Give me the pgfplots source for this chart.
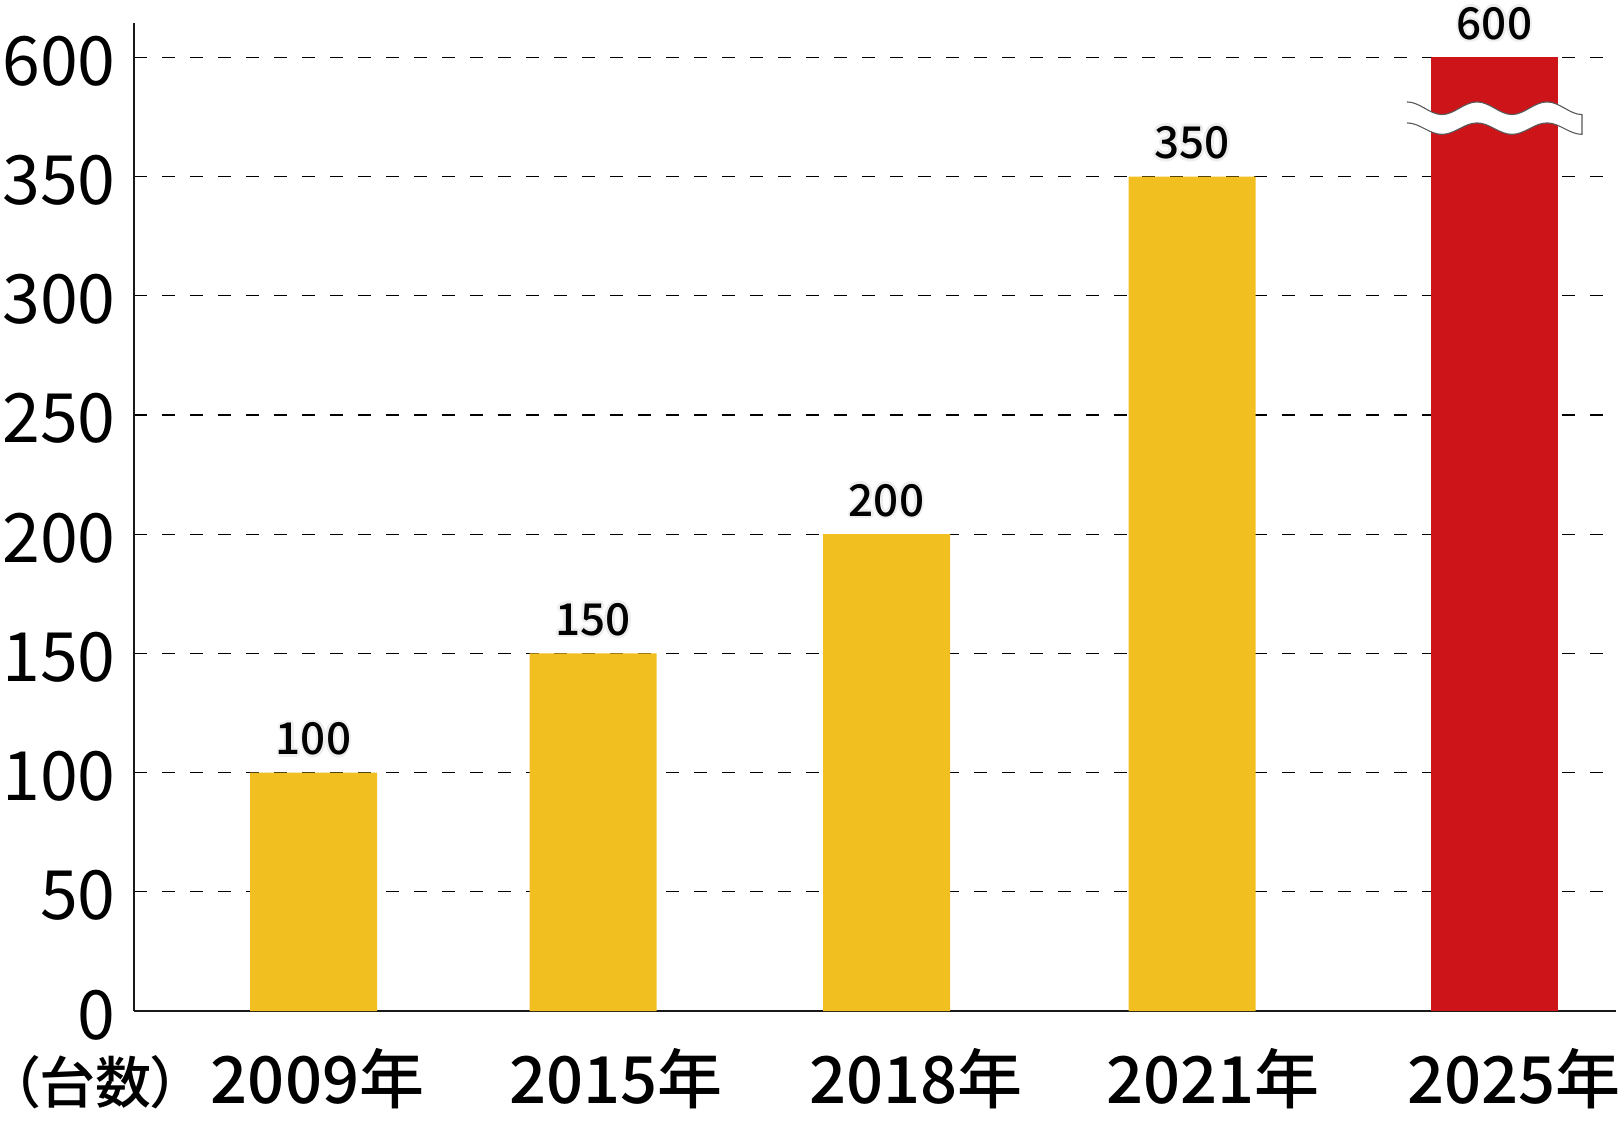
\documentclass[border=0pt]{standalone}
\usepackage{fontspec}
\setmainfont{Noto Sans CJK JP}
\newfontfamily\medium{Noto Sans CJK JP Medium}
\newfontfamily\mediumpalt{Noto Sans CJK JP Medium}[RawFeature=+palt]
\usepackage{pgfplots}
\pgfplotsset{compat=1.18}
\definecolor{baryellow}{RGB}{241,191,31}
\definecolor{barred}{RGB}{205,20,24}
\definecolor{halo}{RGB}{238,238,238}

% value label with a light halo
\newcommand\hc[3]{\rlap{\kern#1\raisebox{#2}{\color{halo}#3}}}
\newcommand\halo[1]{\hc{1.3pt}{0pt}{#1}\hc{-1.3pt}{0pt}{#1}\hc{0pt}{1.3pt}{#1}\hc{0pt}{-1.3pt}{#1}%
  \hc{0.9pt}{0.9pt}{#1}\hc{-0.9pt}{0.9pt}{#1}\hc{0.9pt}{-0.9pt}{#1}\hc{-0.9pt}{-0.9pt}{#1}#1}

\begin{document}
\begin{tikzpicture}
\path[use as bounding box] (0,0) rectangle (811.5pt,-560.5pt);
\begin{axis}[
    at={(67pt,-505.5pt)},
    anchor=south west,
    scale only axis,
    width=736.5pt,
    height=494pt,
    xmin=134, xmax=1607,
    ymin=0, ymax=414.4,
    axis x line*=bottom,
    axis y line*=left,
    axis line style={-, line width=1.4pt, black!90},
    major tick length=0pt,
    ytick={0,50,100,150,200,250,300,350,400},
    yticklabels={0,50,100,150,200,250,300,350,600},
    xtick={317.5,616,916,1213,1514},
    xticklabels={2009年,2015年,2018年,2021年,2025年},
    /pgf/number format/assume math mode=true,
    yticklabel style={font=\fontsize{34pt}{34pt}\selectfont, anchor=base east, inner sep=0pt, xshift=-9pt, yshift=-14pt},
    xticklabel style={font=\medium\fontsize{32.5pt}{32.5pt}\selectfont, anchor=base, inner sep=0pt, yshift=-46pt},
    ymajorgrids,
    major grid style={black, line width=0.65pt, dash pattern=on 6.5pt off 7.5pt},
    clip=false,
]
\addplot[ybar, bar width=127, bar shift=0pt, fill=baryellow, draw=none] coordinates {
    (313.5,100) (593,150) (886.5,200) (1192,350)
};
\addplot[ybar, bar width=127, bar shift=0pt, fill=barred, draw=none] coordinates {
    (1494.5,400)
};
% axis line continues a little past the grid
\draw[line width=1.4pt, black!90] (axis cs:1600,0) -- (axis cs:1616,0);

% value labels
\begin{scope}[every node/.style={font=\medium\fontsize{22pt}{22pt}\selectfont, anchor=base, inner sep=0pt, yshift=9pt}]
\node at (axis cs:313.5,100) {\halo{100}};
\node at (axis cs:593,150) {\halo{150}};
\node at (axis cs:886.5,200) {\halo{200}};
\node at (axis cs:1192,350) {\halo{350}};
\node at (axis cs:1494.5,400) {\halo{600}};
\end{scope}

% break mark on the 2025 bar
\filldraw[fill=white, draw=black!65, line width=0.55pt]
    (axis cs:1407,381.3) cos (axis cs:1424.5,378.7) sin (axis cs:1442,376.0)
    cos (axis cs:1459.5,378.7) sin (axis cs:1477,381.3)
    cos (axis cs:1494.5,378.7) sin (axis cs:1512,376.0)
    cos (axis cs:1529.5,378.7) sin (axis cs:1547,381.3)
    cos (axis cs:1564.5,378.7) sin (axis cs:1582,376.0)
    -- (axis cs:1582,367.7)
    cos (axis cs:1564.5,370.1) sin (axis cs:1547,372.5)
    cos (axis cs:1529.5,370.1) sin (axis cs:1512,367.7)
    cos (axis cs:1494.5,370.1) sin (axis cs:1477,372.5)
    cos (axis cs:1459.5,370.1) sin (axis cs:1442,367.7)
    cos (axis cs:1424.5,370.1) sin (axis cs:1407,372.5);
\end{axis}
\node[anchor=base west, inner sep=0pt, font=\mediumpalt\fontsize{28pt}{28pt}\selectfont] at (5.5pt,-551.5pt) {（台数）};
\end{tikzpicture}
\end{document}
